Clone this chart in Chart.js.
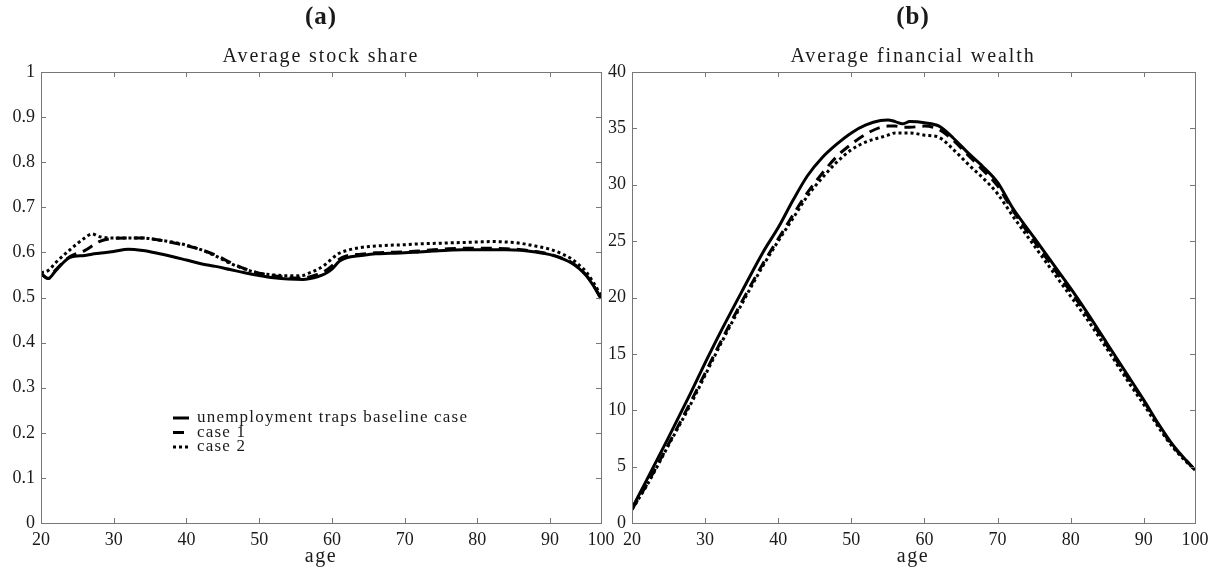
<!DOCTYPE html>
<html>
<head>
<meta charset="utf-8">
<script src="https://cdn.jsdelivr.net/npm/chart.js@4/dist/chart.umd.min.js"></script>
<style>
  body { margin: 0; background: #fff; width: 1217px; height: 569px; position: relative; overflow: hidden; font-family: 'Liberation Serif', serif; color: #1a1a1a; }
  canvas { position: absolute; top: 0; }
  .lbl { position: absolute; transform: translate(-50%, -50%); white-space: nowrap; }
  .panel { font-weight: bold; font-size: 25px; letter-spacing: 1px; }
  .ttl { font-size: 20px; letter-spacing: 1.9px; }
  .axt { font-size: 20px; letter-spacing: 1.5px; }
</style>
</head>
<body>
<canvas id="chart-a" width="616" height="569" style="left:0;width:616px;height:569px"></canvas>
<canvas id="chart-b" width="617" height="569" style="left:600px;width:617px;height:569px"></canvas>

<div class="lbl panel" style="left:321px;top:16px">(a)</div>
<div class="lbl ttl" style="left:321px;top:55px">Average stock share</div>
<div class="lbl axt" style="left:321px;top:555px">age</div>
<div class="lbl panel" style="left:913px;top:16px">(b)</div>
<div class="lbl ttl" style="left:913px;top:55px">Average financial wealth</div>
<div class="lbl axt" style="left:913px;top:555px">age</div>

<script>
// Axe des x : graduations placées 20..90, la dernière est étiquetée "100"
const xTickValues = [20, 30, 40, 50, 60, 70, 80, 90, 97];
const xTickLabels = ['20', '30', '40', '50', '60', '70', '80', '90', '100'];

const seriesNames = ['unemployment traps baseline case', 'case 1', 'case 2'];

// (a) part moyenne en actions
const shareAges = [20, 21, 22, 24, 26, 27, 28, 30, 32, 34, 36, 38, 40, 42, 44, 46, 48, 50, 52, 54,
    56, 57, 58, 59, 60, 61, 62, 64, 66, 68, 70, 72, 74, 76, 78, 80, 82, 84, 86, 88, 90, 92, 93, 94, 95, 96, 97];
const shareBase = [.553, .542, .559, .589, .593, .596, .598, .602, .607, .604, .598, .591, .583, .575, .569,
    .562, .555, .549, .544, .541, .540, .542, .546, .552, .563, .580, .588, .593, .597, .598, .599, .601,
    .603, .605, .606, .606, .606, .606, .605, .601, .595, .584, .576, .564, .548, .525, .497];
const shareCase1 = [.553, .542, .561, .591, .604, .614, .624, .631, .632, .632, .628, .622, .615, .606, .594,
    .578, .564, .554, .548, .544, .543, .546, .551, .558, .570, .585, .592, .596, .599, .600, .601, .603,
    .606, .608, .609, .609, .609, .608, .606, .602, .596, .585, .577, .565, .549, .526, .498];
const shareCase2 = [.555, .560, .577, .606, .632, .641, .635, .632, .632, .632, .628, .623, .616, .606, .592,
    .576, .563, .554, .550, .548, .549, .555, .562, .572, .586, .598, .604, .611, .614, .616, .617, .619,
    .620, .621, .622, .623, .624, .623, .620, .614, .607, .594, .585, .572, .556, .532, .505];

// (b) richesse financière moyenne
const wealthAges = [20, 22, 25, 28, 30, 32, 35, 38, 40, 42, 44, 46, 48, 50, 52, 54, 55, 56, 57, 58,
    60, 62, 64, 66, 68, 70, 72, 75, 78, 80, 82, 85, 88, 90, 92, 94, 96, 97];
const wealthBase = [1.3, 3.8, 7.6, 11.5, 14.2, 16.8, 20.5, 24.1, 26.2, 28.6, 30.8, 32.4, 33.6, 34.6, 35.3,
    35.7, 35.75, 35.6, 35.4, 35.6, 35.5, 35.2, 34.1, 32.8, 31.6, 30.2, 28.0, 25.3, 22.6, 20.8, 18.9, 15.9,
    12.9, 10.9, 8.8, 6.9, 5.4, 4.7];
const wealthCase1 = [1.2, 3.4, 7.0, 10.7, 13.3, 15.9, 19.6, 23.1, 25.2, 27.3, 29.3, 31.0, 32.5, 33.6, 34.5,
    35.1, 35.2, 35.2, 35.1, 35.1, 35.2, 34.9, 33.9, 32.6, 31.3, 29.9, 27.8, 25.0, 22.3, 20.5, 18.7, 15.7,
    12.7, 10.8, 8.7, 6.8, 5.4, 4.7];
const wealthCase2 = [1.2, 3.3, 6.9, 10.5, 13.1, 15.7, 19.4, 22.9, 25.0, 27.0, 29.0, 30.6, 32.0, 33.1, 33.8,
    34.2, 34.4, 34.6, 34.6, 34.6, 34.4, 34.2, 33.1, 31.8, 30.6, 29.2, 27.3, 24.6, 21.9, 20.1, 18.3, 15.4,
    12.4, 10.5, 8.5, 6.7, 5.3, 4.7];

const lineStyles = [[], [11, 7], [3, 3]];
const AXIS = '#777';
const TXT = '#1a1a1a';
const FONT = 'Liberation Serif';

function makeDatasets(ages, series) {
    return series.map((vals, i) => ({
        label: seriesNames[i],
        data: ages.map((a, k) => ({ x: a, y: vals[k] })),
        borderColor: '#000',
        borderWidth: 3,
        borderDash: lineStyles[i],
        pointRadius: 0,
        fill: false,
        cubicInterpolationMode: 'monotone',
        order: 3 - i
    }));
}

// Cadre + graduations vers l'intérieur sur les 4 côtés (style MATLAB)
const framePlugin = {
    id: 'frame',
    afterDraw(chart) {
        const { ctx, chartArea: a, scales } = chart;
        const L = 5;
        ctx.save();
        ctx.strokeStyle = AXIS;
        ctx.lineWidth = 1;
        ctx.setLineDash([]);
        ctx.strokeRect(a.left + 0.5, a.top + 0.5, a.right - a.left, a.bottom - a.top);
        ctx.beginPath();
        scales.x.ticks.forEach(t => {
            const px = Math.round(scales.x.getPixelForValue(t.value)) + 0.5;
            ctx.moveTo(px, a.bottom); ctx.lineTo(px, a.bottom - L);
            ctx.moveTo(px, a.top); ctx.lineTo(px, a.top + L);
        });
        scales.y.ticks.forEach(t => {
            const py = Math.round(scales.y.getPixelForValue(t.value)) + 0.5;
            ctx.moveTo(a.left, py); ctx.lineTo(a.left + L, py);
            ctx.moveTo(a.right, py); ctx.lineTo(a.right - L, py);
        });
        ctx.stroke();
        ctx.restore();
    }
};

// Légende dessinée dans la zone du graphique (a)
const legendPlugin = {
    id: 'inlineLegend',
    afterDraw(chart, args, opts) {
        if (!opts.show) return;
        const { ctx, chartArea: a } = chart;
        const x0 = a.left + 132, y0 = a.top + 346, row = 14.5;
        ctx.save();
        chart.data.datasets.forEach((ds, i) => {
            const y = y0 + i * row;
            ctx.strokeStyle = '#000';
            ctx.lineWidth = 3;
            ctx.setLineDash(ds.borderDash);
            ctx.beginPath();
            ctx.moveTo(x0, y); ctx.lineTo(x0 + 16, y);
            ctx.stroke();
            ctx.setLineDash([]);
            ctx.fillStyle = TXT;
            ctx.font = '17px ' + FONT;
            ctx.letterSpacing = '1.2px';
            ctx.textBaseline = 'middle';
            ctx.fillText(ds.label, x0 + 24, y);
        });
        ctx.restore();
    }
};

function createChart(id, datasets, yMax, yStep, yWidth, padRight, showLegend) {
    const ctx = document.getElementById(id);
    return new Chart(ctx, {
        type: 'line',
        data: { datasets },
        options: {
            responsive: false,
            animation: false,
            layout: { padding: { top: 72, right: padRight, left: 0, bottom: 0 } },
            plugins: {
                legend: { display: false },
                tooltip: { enabled: false },
                inlineLegend: { show: showLegend }
            },
            scales: {
                x: {
                    type: 'linear',
                    min: 20,
                    max: 97,
                    grid: { display: false, drawTicks: false },
                    border: { display: false },
                    afterBuildTicks: s => { s.ticks = xTickValues.map(v => ({ value: v })); },
                    afterFit: s => { s.height = 46; s.paddingLeft = 0; s.paddingRight = 0; },
                    ticks: {
                        autoSkip: false,
                        maxRotation: 0,
                        padding: 6,
                        color: TXT,
                        font: { family: FONT, size: 18 },
                        callback: (v, i) => xTickLabels[i]
                    }
                },
                y: {
                    min: 0,
                    max: yMax,
                    grid: { display: false, drawTicks: false },
                    border: { display: false },
                    afterFit: s => { s.width = yWidth; },
                    ticks: {
                        stepSize: yStep,
                        autoSkip: false,
                        padding: 6,
                        color: TXT,
                        font: { family: FONT, size: 18 },
                        callback: v => String(Math.round(v * 10) / 10)
                    }
                }
            }
        },
        plugins: [framePlugin, legendPlugin]
    });
}

createChart('chart-a', makeDatasets(shareAges, [shareBase, shareCase1, shareCase2]), 1, 0.1, 41, 15, true);
createChart('chart-b', makeDatasets(wealthAges, [wealthBase, wealthCase1, wealthCase2]), 40, 5, 32, 22, false);
</script>
</body>
</html>
